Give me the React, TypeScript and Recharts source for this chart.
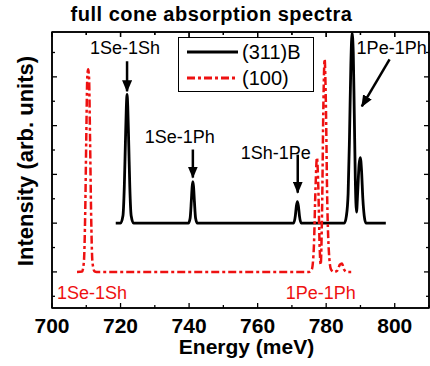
import React from 'react';
import { LineChart, Line, XAxis, YAxis, ReferenceLine, ReferenceDot, ReferenceArea } from 'recharts';

const FONT = 'Arial, "Liberation Sans", Helvetica, sans-serif';

const TITLE = 'full cone absorption spectra';
const X_TITLE = 'Energy (meV)';
const Y_TITLE = 'Intensity (arb. units)';
const SERIES_NAMES = ['(311)B', '(100)'];
const SERIES_COLORS = ['#000000', '#ee1111'];

const B311_ENERGY = [718.6, 720.0, 720.7, 721.1, 721.4, 721.7, 721.9, 722.1, 722.4, 722.7, 723.1, 723.8,
  739.8, 740.3, 740.65, 740.9, 741.1, 741.3, 741.55, 741.9, 742.4,
  770.5, 771.0, 771.3, 771.6, 771.9, 772.2, 772.7,
  785.3, 785.9, 786.4, 786.8, 787.2, 787.55, 787.9, 788.2, 788.5, 788.85, 789.2, 789.6, 789.95, 790.3, 790.7, 791.1, 791.6, 797.4];
const B311_INTENSITY = [2, 2, 2.3, 3.5, 5.2, 6.8, 7.28, 6.8, 5.2, 3.5, 2.3, 2,
  2, 2.2, 2.9, 3.5, 3.7, 3.5, 2.9, 2.2, 2,
  2, 2.3, 2.7, 2.88, 2.7, 2.3, 2,
  2, 2.3, 3.2, 5.5, 8.5, 9.8, 9.0, 6.5, 3.8, 2.45, 3.3, 4.4, 4.69, 4.2, 3.0, 2.3, 2, 2];

const S100_ENERGY = [707.3, 708.8, 709.3, 709.7, 710.0, 710.3, 710.55, 710.8, 711.1, 711.4, 711.8, 712.4, 713.0,
  775.0, 775.8, 776.4, 776.9, 777.3, 777.7, 778.1, 778.4, 778.8, 779.2, 779.55, 779.9, 780.3, 780.8, 781.4, 782.2, 783.2, 784.0, 784.6, 785.2, 786.0, 787.3];
const S100_INTENSITY = [0, 0.02, 0.4, 2.5, 5.5, 8.0, 8.31, 8.0, 5.5, 2.5, 0.4, 0.02, 0,
  0, 0.1, 1.0, 3.5, 4.69, 3.5, 1.0, 0.3, 2.5, 7.0, 8.72, 7.0, 3.0, 0.8, 0.1, 0, 0.05, 0.3, 0.35, 0.1, 0, 0];

const X_DOMAIN = [700, 810];
const X_TICKS = [700, 710, 720, 730, 740, 750, 760, 770, 780, 790, 800, 810];
const Y_DOMAIN = [-1.48, 9.84];
const Y_TICKS = [-1, 0, 1, 2, 3, 4, 5, 6, 7, 8, 9];
const Y_PER_PX = 11.32 / 276;

const LABEL_TEXT = ['1Se-1Sh', '1Se-1Ph', '1Sh-1Pe', '1Pe-1Ph', '1Se-1Sh', '1Pe-1Ph'];
const LABEL_X = [721.3, 737.3, 765.3, 799.1, 711.7, 778.4];
const LABEL_Y = [9.18, 5.53, 4.9, 9.18, -0.84, -0.84];
const LABEL_SERIES = [0, 0, 0, 0, 1, 1];

const ARROW_X1 = [721.9, 741.1, 771.7, 798.5];
const ARROW_Y1 = [8.64, 5.02, 4.81, 8.72];
const ARROW_X2 = [721.9, 741.1, 771.7, 790.4];
const ARROW_Y2 = [7.41, 3.87, 3.25, 6.79];

const zip = (xs: number[], ys: number[]) => xs.map((x, i) => ({ x, y: ys[i] }));
const b311 = zip(B311_ENERGY, B311_INTENSITY);
const s100 = zip(S100_ENERGY, S100_INTENSITY);

const BottomTick = (p: any) => {
  const { x, y, payload } = p;
  const v = payload.value;
  const major = v % 20 === 0;
  return (
    <g>
      <line x1={x} x2={x} y1={y} y2={y - (major ? 5 : 3)} stroke="#000" strokeWidth={1.3} />
      {major && v <= 800 && (
        <text x={x} y={y + 25} textAnchor="middle" fontSize={21} fontWeight="bold" fontFamily={FONT} fill="#000">{v}</text>
      )}
    </g>
  );
};
const TopTick = (p: any) => {
  const { x, y, payload } = p;
  const major = payload.value % 20 === 0;
  return <line x1={x} x2={x} y1={y} y2={y + (major ? 5 : 3)} stroke="#000" strokeWidth={1.3} />;
};
const LeftTick = (p: any) => {
  const { x, y, payload } = p;
  const major = payload.value % 2 === 0;
  return <line x1={x} x2={x + (major ? 5 : 3)} y1={y} y2={y} stroke="#000" strokeWidth={1.3} />;
};
const RightTick = (p: any) => {
  const { x, y, payload } = p;
  const major = payload.value % 2 === 0;
  return <line x1={x} x2={x - (major ? 5 : 3)} y1={y} y2={y} stroke="#000" strokeWidth={1.3} />;
};

const LegendBox = () => (
  <div style={{ position: 'absolute', left: 178, top: 37, border: '1.5px solid #000', background: '#fff', width: 134, height: 53, fontFamily: FONT, boxSizing: 'content-box' }}>
    {SERIES_NAMES.map((n, i) => (
      <div key={n} style={{ display: 'flex', alignItems: 'center', height: 26, marginTop: i === 0 ? 1 : 0 }}>
        <svg width={60} height={10} style={{ marginLeft: 8 }}>
          <line x1={0} x2={51} y1={5} y2={5} stroke={SERIES_COLORS[i]} strokeWidth={2.8}
            strokeDasharray={i === 1 ? '8 3 3 3' : undefined} />
        </svg>
        <span style={{ fontSize: 20, color: '#000', marginLeft: -5, lineHeight: '20px' }}>{n}</span>
      </div>
    ))}
  </div>
);

const arrowShape = (p: any) => (
  <line x1={p.x1} y1={p.y1} x2={p.x2} y2={p.y2} stroke="#000" strokeWidth={2.5} markerEnd="url(#arrowhead)" />
);

export default function App() {
  return (
    <div style={{ position: 'absolute', left: 0, top: 0, width: 430, height: 366, background: '#fff' }}>
      <svg width={0} height={0} style={{ position: 'absolute' }}>
        <defs>
          <marker id="arrowhead" markerUnits="userSpaceOnUse" markerWidth={12} markerHeight={10} refX={11} refY={5} orient="auto">
            <path d="M0,0 L12,5 L0,10 z" fill="#000" />
          </marker>
        </defs>
      </svg>
      <div style={{ position: 'absolute', left: 0, top: 0, width: 430, height: 366 }}>
        <LineChart width={430} height={366} margin={{ top: 2, right: 0, left: 0, bottom: 0 }}>
          <XAxis xAxisId="b" type="number" dataKey="x" domain={X_DOMAIN} ticks={X_TICKS} interval={0}
            orientation="bottom" height={58} tickLine={false} tickSize={0} tickMargin={0}
            tick={<BottomTick />} axisLine={{ stroke: '#000', strokeWidth: 1.5 }} allowDataOverflow
            label={(lp: any) => {
              const vb = lp.viewBox || {};
              return <text x={vb.x + vb.width / 2 + 6} y={vb.y + 46} textAnchor="middle" fontSize={21} fontWeight="bold" fontFamily={FONT} fill="#000">{X_TITLE}</text>;
            }} />
          <XAxis xAxisId="t" type="number" dataKey="x" domain={X_DOMAIN} ticks={X_TICKS} interval={0}
            orientation="top" height={30} tickLine={false} tickSize={0} tickMargin={0} tick={<TopTick />}
            axisLine={{ stroke: '#000', strokeWidth: 1.5 }} allowDataOverflow
            label={() => (
              <text x={211.5} y={21} textAnchor="middle" fontSize={20} fontWeight="bold" fontFamily={FONT} fill="#000" letterSpacing={0.5}>{TITLE}</text>
            )} />
          <YAxis yAxisId="l" type="number" domain={Y_DOMAIN} ticks={Y_TICKS} interval={0} width={52}
            orientation="left" tickLine={false} tickSize={0} tickMargin={0} tick={<LeftTick />}
            axisLine={{ stroke: '#000', strokeWidth: 1.5 }} allowDataOverflow
            label={() => (
              <text x={33} y={161} transform="rotate(-90, 33, 161)" textAnchor="middle" fontSize={22} fontWeight="bold" fontFamily={FONT} fill="#000">{Y_TITLE}</text>
            )} />
          <YAxis yAxisId="r" type="number" domain={Y_DOMAIN} ticks={Y_TICKS} interval={0} width={1}
            orientation="right" tickLine={false} tickSize={0} tickMargin={0} tick={<RightTick />}
            axisLine={{ stroke: '#000', strokeWidth: 1.5 }} allowDataOverflow />
          <ReferenceArea xAxisId="b" yAxisId="l" x1={X_DOMAIN[0]} x2={X_DOMAIN[1]} y1={Y_DOMAIN[0]} y2={Y_DOMAIN[1]}
            stroke="#000" strokeWidth={1.5} fill="none" fillOpacity={0} ifOverflow="visible" />
          {X_TICKS.map((t) => (
            <ReferenceLine key={'tt' + t} xAxisId="b" yAxisId="l" ifOverflow="visible"
              segment={[{ x: t, y: Y_DOMAIN[1] }, { x: t, y: Y_DOMAIN[1] - (t % 20 === 0 ? 5 : 3) * Y_PER_PX }]}
              stroke="#000" strokeWidth={1.3} />
          ))}
          <Line xAxisId="b" yAxisId="l" data={b311} dataKey="y" name={SERIES_NAMES[0]} type="monotone"
            stroke={SERIES_COLORS[0]} strokeWidth={2.8} dot={false} isAnimationActive={false} />
          <Line xAxisId="t" yAxisId="r" data={s100} dataKey="y" name={SERIES_NAMES[1]} type="monotone"
            stroke={SERIES_COLORS[1]} strokeWidth={2.5} strokeDasharray="8 3 3 3" dot={false} isAnimationActive={false} />
          {ARROW_X1.map((x1, i) => (
            <ReferenceLine key={'a' + i} xAxisId="b" yAxisId="l" ifOverflow="visible"
              segment={[{ x: x1, y: ARROW_Y1[i] }, { x: ARROW_X2[i], y: ARROW_Y2[i] }]}
              stroke="#000" strokeWidth={2.5} shape={arrowShape} />
          ))}
          {LABEL_TEXT.map((t, i) => (
            <ReferenceDot key={'l' + i} xAxisId="b" yAxisId="l" x={LABEL_X[i]} y={LABEL_Y[i]} r={0}
              fill="none" stroke="none" ifOverflow="visible"
              label={{ value: t, position: 'center', fill: SERIES_COLORS[LABEL_SERIES[i]], fontSize: 18, fontFamily: FONT }} />
          ))}
        </LineChart>
        <LegendBox />
      </div>
    </div>
  );
}
